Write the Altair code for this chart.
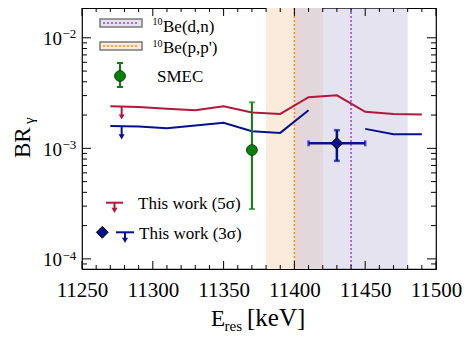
import altair as alt
import pandas as pd

# ---------------- data ----------------
e_grid = [11270, 11290, 11310, 11330, 11350, 11370, 11390, 11410, 11430, 11450, 11470, 11490]
br_5sigma = [2.40e-3, 2.36e-3, 2.28e-3, 2.21e-3, 2.40e-3, 2.11e-3, 2.05e-3, 2.90e-3, 3.02e-3, 2.14e-3, 2.04e-3, 2.02e-3]
br_3sigma = [1.59e-3, 1.58e-3, 1.52e-3, 1.61e-3, 1.70e-3, 1.43e-3, 1.38e-3, 2.21e-3, None, 1.50e-3, 1.34e-3, 1.34e-3]

# upper-limit arrows on the lines
arrow_x = [11278, 11278]
arrow_from = [2.39e-3, 1.59e-3]
arrow_head = [1.92e-3, 1.27e-3]
arrow_color = ["#b3173d", "#06128c"]

# SMEC point
smec_x = [11370]
smec_y = [0.965e-3]
smec_lo = [2.82e-4]
smec_hi = [2.61e-3]

# This work (3 sigma) point
tw_x = [11430]
tw_xlo = [11410]
tw_xhi = [11450]
tw_y = [1.11e-3]
tw_ylo = [0.77e-3]
tw_yhi = [1.46e-3]

# 10Be bands: (p,p') and (d,n)
band_lo = [11380, 11400]
band_hi = [11420, 11480]
band_center = [11400, 11440]

# ticks
x_major = list(range(11250, 11501, 50))
x_minor = [v for v in range(11250, 11501, 10) if v % 50]
y_major = [1e-4, 1e-3, 1e-2]
y_exp = ["\u22124", "\u22123", "\u22122"]
y_minor = [9e-5] + [k * 1e-4 for k in range(2, 10)] + [k * 1e-3 for k in range(2, 10)]

legend_labels = ["Be(d,n)", "Be(p,p')", "SMEC", "This work (5\u03c3)", "This work (3\u03c3)"]

# ---------------- styling ----------------
W, H = 354, 261
FONT = "Liberation Serif"
RED = "#b3173d"
BLUE = "#06128c"
GREEN = "#0a800a"
ORANGE_LINE = "#ff8c1a"
PURPLE_LINE = "#9b3cff"
ORANGE_FILL = "#faebdd"
PURPLE_FILL = "#bdb8da"

xs = alt.Scale(domain=[11250, 11500], nice=False, zero=False)
ys = alt.Scale(type="log", domain=[8.1e-5, 0.0186], nice=False)

X_AXIS = alt.Axis(values=x_major, format="d", labelFont=FONT, labelFontSize=21,
                  labelColor="black", ticks=False, tickSize=0, domain=False,
                  grid=False, labelPadding=10, title=None, labelOverlap=False,
                  labelFlush=False, labelBound=False)


def X(f):
    return alt.X(f"{f}:Q", scale=xs, axis=X_AXIS)


def Y(f):
    return alt.Y(f"{f}:Q", scale=ys, axis=None)


one = pd.DataFrame({"a": [0]})
layers = []

# bands
bands = pd.DataFrame({"lo": band_lo, "hi": band_hi, "k": [0, 1]})
layers.append(alt.Chart(bands).transform_filter("datum.k == 0").mark_rect(
    color=ORANGE_FILL).encode(x=X("lo"), x2="hi", y=alt.value(0), y2=alt.value(H)))
layers.append(alt.Chart(bands).transform_filter("datum.k == 1").mark_rect(
    color=PURPLE_FILL, opacity=0.4).encode(x=X("lo"), x2="hi", y=alt.value(0), y2=alt.value(H)))

# dotted centroids
cent = pd.DataFrame({"c": band_center, "k": [0, 1]})
for k, col in [(0, ORANGE_LINE), (1, PURPLE_LINE)]:
    layers.append(alt.Chart(cent).transform_filter(f"datum.k == {k}").mark_rule(
        color=col, strokeWidth=1.5, strokeDash=[2, 2]).encode(x=X("c"), y=alt.value(0), y2=alt.value(H)))

# lines
red_df = pd.DataFrame({"e": e_grid, "b": br_5sigma})
layers.append(alt.Chart(red_df).mark_line(color=RED, strokeWidth=2).encode(x=X("e"), y=Y("b")))

rows = []
seg = 0
for e, b in zip(e_grid, br_3sigma):
    if b is None:
        seg += 1
        continue
    rows.append({"e": e, "b": b, "s": seg})
blue_df = pd.DataFrame(rows)
layers.append(alt.Chart(blue_df).mark_line(color=BLUE, strokeWidth=2).encode(
    x=X("e"), y=Y("b"), detail="s:N"))

# arrows
arr = pd.DataFrame({"x": arrow_x, "f": arrow_from, "h": arrow_head, "c": arrow_color})
layers.append(alt.Chart(arr).mark_rule(strokeWidth=2).encode(
    x=X("x"), y=Y("f"), y2="h", color=alt.Color("c:N", scale=None)))
layers.append(alt.Chart(arr).mark_point(shape="triangle-down", filled=True, size=36, opacity=1).encode(
    x=X("x"), y=Y("h"), color=alt.Color("c:N", scale=None)))

# SMEC point
sm = pd.DataFrame({"x": smec_x, "y": smec_y, "lo": smec_lo, "hi": smec_hi})
layers.append(alt.Chart(sm).mark_rule(color=GREEN, strokeWidth=2).encode(x=X("x"), y=Y("lo"), y2="hi"))
layers.append(alt.Chart(sm).mark_tick(color=GREEN, orient="horizontal", size=6, thickness=2).encode(x=X("x"), y=Y("lo")))
layers.append(alt.Chart(sm).mark_tick(color=GREEN, orient="horizontal", size=6, thickness=2).encode(x=X("x"), y=Y("hi")))
layers.append(alt.Chart(sm).mark_point(shape="circle", filled=True, size=115, color=GREEN, opacity=1,
                                       stroke="#0b3d0b", strokeWidth=1).encode(x=X("x"), y=Y("y")))

# This work point
tw = pd.DataFrame({"x": tw_x, "xlo": tw_xlo, "xhi": tw_xhi, "y": tw_y, "ylo": tw_ylo, "yhi": tw_yhi})
layers.append(alt.Chart(tw).mark_rule(color=BLUE, strokeWidth=2.5).encode(x=X("x"), y=Y("ylo"), y2="yhi"))
layers.append(alt.Chart(tw).mark_rule(color=BLUE, strokeWidth=2.5).encode(x=X("xlo"), x2="xhi", y=Y("y")))
for f in ["ylo", "yhi"]:
    layers.append(alt.Chart(tw).mark_tick(color=BLUE, orient="horizontal", size=6, thickness=2.5).encode(x=X("x"), y=Y(f)))
for f in ["xlo", "xhi"]:
    layers.append(alt.Chart(tw).mark_tick(color=BLUE, orient="vertical", size=6, thickness=2.5).encode(x=X(f), y=Y("y")))
layers.append(alt.Chart(tw).mark_point(shape="diamond", filled=True, size=140, color=BLUE, opacity=1,
                                       stroke="black", strokeWidth=1).encode(x=X("x"), y=Y("y")))

# inward ticks
xmj = pd.DataFrame({"v": x_major})
xmn = pd.DataFrame({"v": x_minor})
ymj = pd.DataFrame({"v": y_major, "e": y_exp})
ymn = pd.DataFrame({"v": y_minor})
for df, ln in [(xmj, 8), (xmn, 4)]:
    layers.append(alt.Chart(df).mark_rule(color="black", strokeWidth=1).encode(
        x=X("v"), y=alt.value(H), y2=alt.value(H - ln)))
    layers.append(alt.Chart(df).mark_rule(color="black", strokeWidth=1).encode(
        x=X("v"), y=alt.value(0), y2=alt.value(ln)))
for df, ln in [(ymj, 9), (ymn, 5)]:
    layers.append(alt.Chart(df).mark_rule(color="black", strokeWidth=1).encode(
        y=Y("v"), x=alt.value(0), x2=alt.value(ln)))
    layers.append(alt.Chart(df).mark_rule(color="black", strokeWidth=1).encode(
        y=Y("v"), x=alt.value(W), x2=alt.value(W - ln)))

# y tick labels 10^n
layers.append(alt.Chart(ymj).mark_text(text="10", font=FONT, fontSize=19, align="right",
                                       baseline="alphabetic", dy=7.4, color="black").encode(
    y=Y("v"), x=alt.value(-20)))
layers.append(alt.Chart(ymj).mark_text(font=FONT, fontSize=13, align="left",
                                       baseline="alphabetic", dy=0.7, color="black").encode(
    y=Y("v"), x=alt.value(-19.5), text="e:N"))


def txt(s, x, y, size, angle=0, align="left", color="black"):
    kw = dict(text=s, font=FONT, fontSize=size, align=align, baseline="alphabetic", color=color)
    if angle:
        kw["angle"] = angle
    return alt.Chart(one).mark_text(**kw).encode(x=alt.value(x), y=alt.value(y))


# axis titles
layers.append(txt("E", 129, 318.3, 23))
layers.append(txt("res", 142.5, 323, 15))
layers.append(txt("[keV]", 165, 318.3, 25))
layers.append(txt("BR", -52, 150, 23, angle=270))
layers.append(txt("\u03b3", -48.5, 116, 15, angle=270))

# top-left legend
for (y0, y1, fill, lc) in [(11, 19, "#e6e3f0", PURPLE_LINE), (34, 42, ORANGE_FILL, ORANGE_LINE)]:
    layers.append(alt.Chart(one).mark_rect(fill=fill, stroke="#7a7a7a", strokeWidth=1.5).encode(
        x=alt.value(18), x2=alt.value(60), y=alt.value(y0), y2=alt.value(y1)))
    layers.append(alt.Chart(one).mark_rule(color=lc, strokeWidth=1.5, strokeDash=[2, 2]).encode(
        x=alt.value(21), x2=alt.value(57), y=alt.value((y0 + y1) / 2)))
layers.append(txt("10", 70.5, 17, 10))
layers.append(txt(legend_labels[0], 81, 23.7, 17))
layers.append(txt("10", 70.5, 38.7, 10))
layers.append(txt(legend_labels[1], 81, 45.3, 17))
layers.append(alt.Chart(one).mark_rule(color=GREEN, strokeWidth=2).encode(
    x=alt.value(38), y=alt.value(55), y2=alt.value(79)))
for yy in [55, 79]:
    layers.append(alt.Chart(one).mark_rule(color=GREEN, strokeWidth=2).encode(
        x=alt.value(35), x2=alt.value(41), y=alt.value(yy)))
layers.append(alt.Chart(one).mark_point(shape="circle", filled=True, size=115, color=GREEN, opacity=1,
                                        stroke="#0b3d0b", strokeWidth=1).encode(x=alt.value(38), y=alt.value(68)))
layers.append(txt(legend_labels[2], 75, 73.7, 17))

# bottom-left legend
for (xa, xb, xc, yt, yh, col) in [(24, 41, 32.5, 194.7, 202.3, RED), (34, 52, 43, 224.3, 232.3, BLUE)]:
    layers.append(alt.Chart(one).mark_rule(color=col, strokeWidth=2).encode(
        x=alt.value(xa), x2=alt.value(xb), y=alt.value(yt)))
    layers.append(alt.Chart(one).mark_rule(color=col, strokeWidth=2).encode(
        x=alt.value(xc), y=alt.value(yt), y2=alt.value(yh)))
    layers.append(alt.Chart(one).mark_point(shape="triangle-down", filled=True, size=36, color=col, opacity=1).encode(
        x=alt.value(xc), y=alt.value(yh)))
layers.append(alt.Chart(one).mark_point(shape="diamond", filled=True, size=140, color=BLUE, opacity=1,
                                        stroke="black", strokeWidth=1).encode(x=alt.value(20.3), y=alt.value(224.3)))
layers.append(txt(legend_labels[3], 56, 201.3, 17))
layers.append(txt(legend_labels[4], 57, 231.3, 17))

chart = alt.layer(*layers).properties(
    width=W, height=H,
    padding={"left": 74, "top": 0, "right": 30, "bottom": 64},
    autosize=alt.AutoSizeParams(type="none"),
    background="white",
).configure_view(stroke="black", strokeWidth=1.2)

chart.save("out.html", embed_options={"renderer": "svg", "actions": False})
